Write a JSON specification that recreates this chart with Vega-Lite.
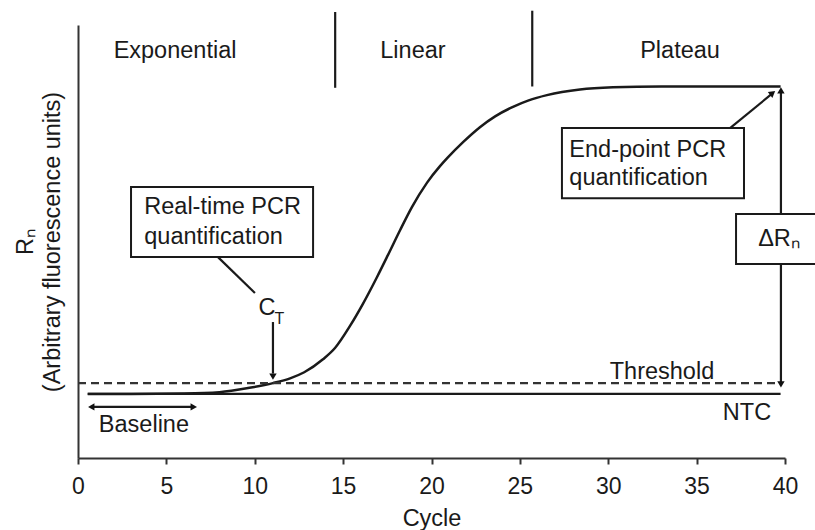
{
  "$schema": "https://vega.github.io/schema/vega-lite/v6.json",
  "width": 707,
  "height": 433,
  "autosize": {"type": "none"},
  "padding": {"left": 78, "top": 25, "right": 30, "bottom": 72},
  "background": "white",
  "config": {
    "view": {"stroke": null},
    "font": "Liberation Sans",
    "text": {"font": "Liberation Sans", "fontSize": 23.5, "color": "#1a1a1a"}
  },
  "datasets": {
    "curve": [
      {"cycle": 0.55, "rn": 14.8}, {"cycle": 3, "rn": 14.8}, {"cycle": 6, "rn": 14.9},
      {"cycle": 8, "rn": 15.2}, {"cycle": 9.7, "rn": 16.2}, {"cycle": 11.03, "rn": 17.3},
      {"cycle": 12.0, "rn": 18.4}, {"cycle": 12.8, "rn": 19.8}, {"cycle": 13.86, "rn": 22.8},
      {"cycle": 14.54, "rn": 25.4}, {"cycle": 15.39, "rn": 30.5}, {"cycle": 16.12, "rn": 35.6},
      {"cycle": 16.92, "rn": 41.8}, {"cycle": 17.54, "rn": 46.9}, {"cycle": 18.22, "rn": 52.6},
      {"cycle": 18.9, "rn": 58.0}, {"cycle": 19.75, "rn": 63.6}, {"cycle": 20.48, "rn": 67.4},
      {"cycle": 20.9, "rn": 69.3}, {"cycle": 21.8, "rn": 73.0}, {"cycle": 22.74, "rn": 76.4},
      {"cycle": 23.6, "rn": 78.9}, {"cycle": 24.61, "rn": 81.1}, {"cycle": 25.5, "rn": 82.6},
      {"cycle": 26.53, "rn": 83.8}, {"cycle": 28.4, "rn": 85.1}, {"cycle": 30.27, "rn": 85.6},
      {"cycle": 33, "rn": 85.8}, {"cycle": 39.75, "rn": 85.8}
    ],
    "solidRules": [
      {"item": "NTC", "x0": 0.55, "x1": 39.75, "y0": 14.8, "y1": 14.8},
      {"item": "divider1", "x0": 14.55, "x1": 14.55, "y0": 85.5, "y1": 103},
      {"item": "divider2", "x0": 25.7, "x1": 25.7, "y0": 85.8, "y1": 103.3},
      {"item": "realtime link", "x0": 7.92, "x1": 10.01, "y0": 46.4, "y1": 38.1},
      {"item": "endpoint link", "x0": 36.89, "x1": 39.2, "y0": 76.2, "y1": 83.9},
      {"item": "CT arrow", "x0": 11.03, "x1": 11.03, "y0": 31.4, "y1": 19.5},
      {"item": "baseline arrow", "x0": 0.8, "x1": 6.5, "y0": 11.8, "y1": 11.8},
      {"item": "delta arrow", "x0": 39.77, "x1": 39.77, "y0": 84.5, "y1": 17.5}
    ],
    "dashedRules": [
      {"item": "Threshold", "x0": 0, "x1": 39.75, "y0": 17.3, "y1": 17.3}
    ],
    "boxes": [
      {"item": "realtime", "x0": 3.0, "x1": 13.3, "y0": 46.4, "y1": 62.6},
      {"item": "endpoint", "x0": 27.38, "x1": 37.68, "y0": 60.0, "y1": 76.2},
      {"item": "delta", "x0": 37.23, "x1": 43.5, "y0": 44.8, "y1": 56.35}
    ],
    "boxText": [
      {"x": 3.75, "y": 58.0, "label": "Real-time PCR"},
      {"x": 3.75, "y": 51.0, "label": "quantification"},
      {"x": 27.8, "y": 71.1, "label": "End-point PCR"},
      {"x": 27.8, "y": 64.7, "label": "quantification"}
    ],
    "centerText": [
      {"x": 5.49, "y": 94.0, "label": "Exponential"},
      {"x": 18.95, "y": 94.0, "label": "Linear"},
      {"x": 34.06, "y": 94.0, "label": "Plateau"},
      {"x": 33.04, "y": 19.9, "label": "Threshold"},
      {"x": 37.85, "y": 10.4, "label": "NTC"},
      {"x": 3.73, "y": 7.6, "label": "Baseline"},
      {"x": 10.69, "y": 34.6, "label": "C"},
      {"x": 39.66, "y": 50.6, "label": "ΔRₙ"}
    ],
    "subText": [
      {"x": 11.4, "y": 32.2, "label": "T"}
    ],
    "heads": [
      {"x": 11.03, "y": 18.8, "dir": "down"},
      {"x": 0.75, "y": 11.8, "dir": "left"},
      {"x": 6.55, "y": 11.8, "dir": "right"},
      {"x": 39.77, "y": 84.9, "dir": "up"},
      {"x": 39.77, "y": 17.0, "dir": "down"}
    ],
    "diagHeads": [
      {"x": 39.3, "y": 84.3}
    ]
  },
  "encoding": {
    "x": {"type": "quantitative"},
    "y": {"type": "quantitative"}
  },
  "layer": [
    {
      "data": {"name": "curve"},
      "mark": {"type": "line", "interpolate": "monotone", "color": "#1a1a1a", "strokeWidth": 2.5},
      "encoding": {
        "x": {
          "field": "cycle", "type": "quantitative",
          "scale": {"domain": [0, 40], "nice": false, "zero": false},
          "axis": {
            "title": "Cycle", "values": [0, 5, 10, 15, 20, 25, 30, 35, 40],
            "grid": false, "domainColor": "#333", "domainWidth": 2,
            "tickColor": "#333", "tickWidth": 2, "tickSize": 6,
            "labelFont": "Liberation Sans", "labelFontSize": 23, "labelColor": "#1a1a1a",
            "labelPadding": 11, "labelFlush": false,
            "titleFont": "Liberation Sans", "titleFontSize": 23.5, "titleFontWeight": "normal",
            "titleColor": "#1a1a1a", "titlePadding": 8
          }
        },
        "y": {
          "field": "rn", "type": "quantitative",
          "scale": {"domain": [0, 100], "nice": false, "zero": false},
          "axis": {
            "title": ["Rₙ", "(Arbitrary fluorescence units)"],
            "grid": false, "ticks": false, "labels": false,
            "domainColor": "#333", "domainWidth": 2,
            "titleFont": "Liberation Sans", "titleFontSize": 23.5, "titleFontWeight": "normal",
            "titleColor": "#1a1a1a", "titlePadding": 14, "titleLineHeight": 27
          }
        }
      }
    },
    {
      "data": {"name": "solidRules"},
      "mark": {"type": "rule", "color": "#1a1a1a", "strokeWidth": 2.2},
      "encoding": {
        "x": {"field": "x0", "type": "quantitative"},
        "x2": {"field": "x1"},
        "y": {"field": "y0", "type": "quantitative"},
        "y2": {"field": "y1"}
      }
    },
    {
      "data": {"name": "dashedRules"},
      "mark": {"type": "rule", "color": "#333", "strokeWidth": 2.3, "strokeDash": [8, 5]},
      "encoding": {
        "x": {"field": "x0", "type": "quantitative"},
        "x2": {"field": "x1"},
        "y": {"field": "y0", "type": "quantitative"},
        "y2": {"field": "y1"}
      }
    },
    {
      "data": {"name": "boxes"},
      "mark": {"type": "rect", "fill": "white", "stroke": "#1a1a1a", "strokeWidth": 2},
      "encoding": {
        "x": {"field": "x0", "type": "quantitative"},
        "x2": {"field": "x1"},
        "y": {"field": "y0", "type": "quantitative"},
        "y2": {"field": "y1"}
      }
    },
    {
      "data": {"name": "boxText"},
      "mark": {"type": "text", "align": "left", "baseline": "middle", "fontSize": 23.5, "color": "#1a1a1a"},
      "encoding": {
        "x": {"field": "x", "type": "quantitative"},
        "y": {"field": "y", "type": "quantitative"},
        "text": {"field": "label"}
      }
    },
    {
      "data": {"name": "centerText"},
      "mark": {"type": "text", "align": "center", "baseline": "middle", "fontSize": 23.5, "color": "#1a1a1a"},
      "encoding": {
        "x": {"field": "x", "type": "quantitative"},
        "y": {"field": "y", "type": "quantitative"},
        "text": {"field": "label"}
      }
    },
    {
      "data": {"name": "subText"},
      "mark": {"type": "text", "align": "center", "baseline": "middle", "fontSize": 16, "color": "#1a1a1a"},
      "encoding": {
        "x": {"field": "x", "type": "quantitative"},
        "y": {"field": "y", "type": "quantitative"},
        "text": {"field": "label"}
      }
    },
    {
      "data": {"name": "heads"},
      "mark": {"type": "point", "filled": true, "color": "#111", "size": 55, "opacity": 1},
      "encoding": {
        "x": {"field": "x", "type": "quantitative"},
        "y": {"field": "y", "type": "quantitative"},
        "shape": {
          "field": "dir", "type": "nominal", "legend": null,
          "scale": {"domain": ["up", "down", "left", "right"], "range": ["triangle-up", "triangle-down", "triangle-left", "triangle-right"]}
        }
      }
    },
    {
      "data": {"name": "diagHeads"},
      "mark": {"type": "point", "filled": true, "color": "#111", "size": 55, "opacity": 1, "shape": "triangle-up", "angle": 52},
      "encoding": {
        "x": {"field": "x", "type": "quantitative"},
        "y": {"field": "y", "type": "quantitative"}
      }
    }
  ]
}
